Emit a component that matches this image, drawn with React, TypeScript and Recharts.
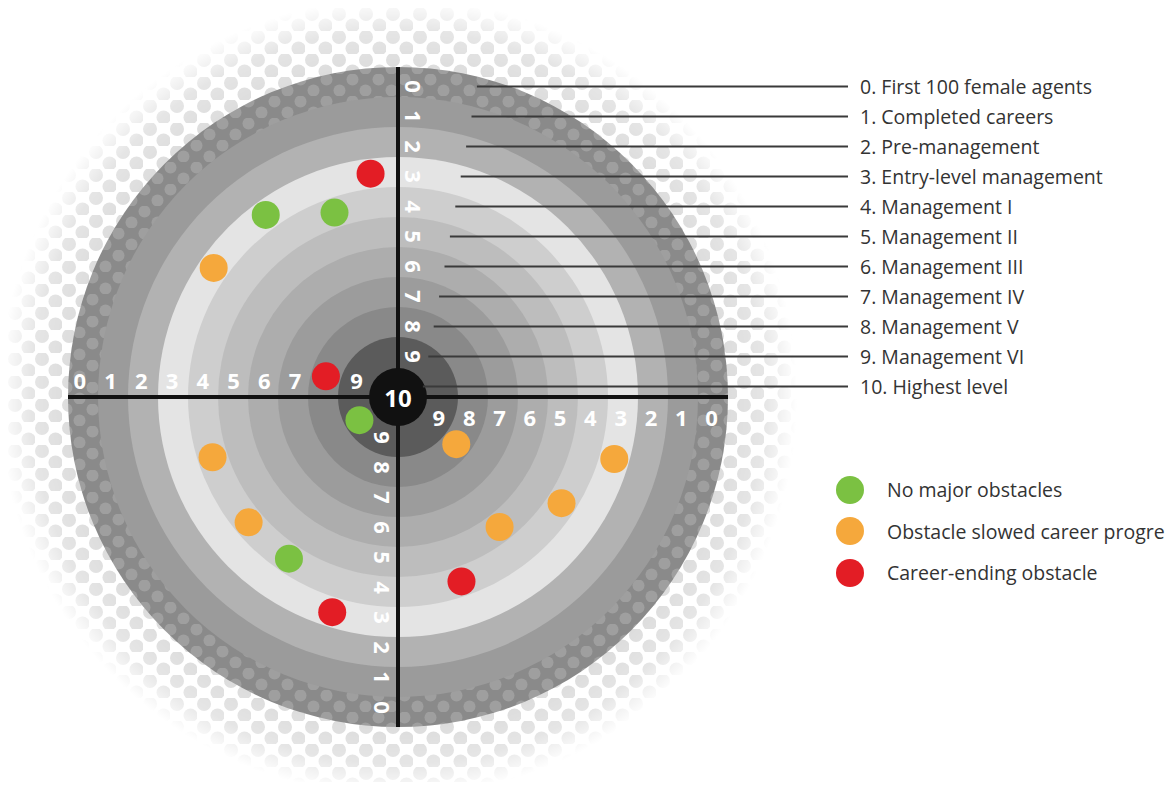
import React from "react";
import { Scatter, ScatterChart, XAxis, YAxis } from "recharts";

// career levels, outermost ring (0) to the bull's-eye (10)
const levels = [0, 1, 2, 3, 4, 5, 6, 7, 8, 9];
const levelNames = [
  "0. First 100 female agents",
  "1. Completed careers",
  "2. Pre-management",
  "3. Entry-level management",
  "4. Management I",
  "5. Management II",
  "6. Management III",
  "7. Management IV",
  "8. Management V",
  "9. Management VI",
  "10. Highest level",
];
const outcomes = ["No major obstacles", "Obstacle slowed career progress", "Career-ending obstacle"];

// one entry per agent: level reached, position round the target (deg, ccw from 3 o'clock), outcome index
const agentLevels = [3, 3, 4, 3, 8, 9, 4, 4, 4, 3, 8, 3, 4, 5, 4];
const agentAngles = [97, 126, 109, 145, 164, 211, 198, 220, 236, 253, 321, 344, 327, 308, 289];
const agentOutcomes = [2, 0, 0, 1, 2, 0, 1, 1, 0, 2, 1, 1, 1, 1, 2];

const W = 1165;
const H = 774;
const CX = 390;
const CY = 389;
const UNIT = 30; // px per ring
const FONT = "'Open Sans', sans-serif";

const RING_FILLS = [
  "url(#ringDots)",
  "#9b9b9b",
  "#b2b2b2",
  "#e4e4e4",
  "#cecece",
  "#bdbdbd",
  "#adadad",
  "#9c9c9c",
  "#898989",
  "#5b5b5b",
];
const OUTCOME_COLORS = ["#7bc142", "#f5a83c", "#e31d25"];

const labelDist = (k: number) => 10.35 - k;
const leaderStart = (k: number) => 2.63 - 0.18 * k;

const arms = [
  { dx: -1, dy: 0, ox: 0, oy: -17, rot: 0, stretch: 1.025 },
  { dx: 1, dy: 0, ox: 0, oy: 20, rot: 0, stretch: 1.01 },
  { dx: 0, dy: 1, ox: 16, oy: 0, rot: 90, stretch: 1 },
  { dx: 0, dy: -1, ox: -15, oy: 0, rot: 90, stretch: 1 },
];

const cloud = [{ x: 0, y: 0 }];
const rings = levels.map((level) => ({ x: 0, y: 0, level }));
const hLine = [{ x: -11, y: 0 }, { x: 11, y: 0 }];
const vLine = [{ x: 0, y: 11 }, { x: 0, y: -11 }];
const bullseye = [{ x: 0, y: 0, text: "10" }];
const armLabels = arms.flatMap((arm, armIndex) =>
  levels.map((k) => ({
    x: arm.dx * labelDist(k) * arm.stretch,
    y: arm.dy * labelDist(k) * arm.stretch,
    text: String(k),
    arm: armIndex,
  })),
);
const nameRows = levelNames.map((name, k) => ({ x: 15.4, y: labelDist(k), name }));

const agents = agentLevels.map((level, i) => {
  const r = 10.5 - level;
  const a = (agentAngles[i] * Math.PI) / 180;
  return { x: r * Math.cos(a), y: r * Math.sin(a), level, outcome: agentOutcomes[i] };
});

const empty = () => <g />;

function OutcomeLegend() {
  return (
    <div style={{ position: "absolute", left: 828, top: 461, fontFamily: FONT }}>
      {outcomes.map((name, i) => (
        <div key={name} style={{ display: "flex", alignItems: "center", height: 41.5, whiteSpace: "nowrap" }}>
          <span
            style={{
              width: 28,
              height: 28,
              flex: "0 0 28px",
              borderRadius: "50%",
              background: OUTCOME_COLORS[i],
            }}
          />
          <span style={{ marginLeft: 23, fontSize: 19.5, color: "#333" }}>{name}</span>
        </div>
      ))}
    </div>
  );
}

export default function App() {
  return (
    <div style={{ position: "relative", width: W, height: H, overflow: "hidden" }}>
      <ScatterChart width={W} height={H} margin={{ top: 0, right: 0, bottom: 0, left: 0 }}>
        <defs>
          <pattern id="cloudDots" width="27" height="23" patternUnits="userSpaceOnUse">
            <circle cx="7" cy="6" r="7" fill="#dcdcdc" />
            <circle cx="20.5" cy="17.5" r="7" fill="#dcdcdc" />
          </pattern>
          <radialGradient id="cloudGrad">
            <stop offset="0.82" stopColor="#fff" />
            <stop offset="0.92" stopColor="#bbb" />
            <stop offset="1" stopColor="#000" />
          </radialGradient>
          <mask id="cloudMask" maskContentUnits="objectBoundingBox">
            <rect width="1" height="1" fill="url(#cloudGrad)" />
          </mask>
          <pattern id="ringDots" width="26" height="22" patternUnits="userSpaceOnUse">
            <rect width="26" height="22" fill="#8a8a8a" />
            <circle cx="6.5" cy="5.5" r="6" fill="#9f9f9f" />
            <circle cx="19.5" cy="16.5" r="6" fill="#9f9f9f" />
          </pattern>
        </defs>
        <XAxis type="number" dataKey="x" hide domain={[-CX / UNIT, (W - CX) / UNIT]} allowDataOverflow />
        <YAxis type="number" dataKey="y" hide domain={[-(H - CY) / UNIT, CY / UNIT]} allowDataOverflow />

        <Scatter
          data={cloud}
          isAnimationActive={false}
          shape={(p: any) => (
            <circle cx={p.cx} cy={p.cy} r={13.3 * UNIT} fill="url(#cloudDots)" mask="url(#cloudMask)" />
          )}
        />
        <Scatter
          data={rings}
          isAnimationActive={false}
          shape={(p: any) => (
            <circle cx={p.cx} cy={p.cy} r={(11 - p.payload.level) * UNIT} fill={RING_FILLS[p.payload.level]} />
          )}
        />
        <Scatter data={hLine} isAnimationActive={false} line={{ stroke: "#111", strokeWidth: 4 }} shape={empty} />
        <Scatter data={vLine} isAnimationActive={false} line={{ stroke: "#111", strokeWidth: 4 }} shape={empty} />
        <Scatter
          data={bullseye}
          isAnimationActive={false}
          shape={(p: any) => (
            <g>
              <circle cx={p.cx} cy={p.cy} r={UNIT - 1} fill="#111" />
              <text
                x={p.cx}
                y={p.cy}
                textAnchor="middle"
                dominantBaseline="central"
                fill="#fff"
                fontFamily={FONT}
                fontWeight={700}
                fontSize={24}
              >
                {p.payload.text}
              </text>
            </g>
          )}
        />
        <Scatter
          data={armLabels}
          isAnimationActive={false}
          shape={(p: any) => {
            const arm = arms[p.payload.arm];
            const x = p.cx + arm.ox;
            const y = p.cy + arm.oy;
            return (
              <text
                x={x}
                y={y}
                transform={`rotate(${arm.rot} ${x} ${y})`}
                textAnchor="middle"
                dominantBaseline="central"
                fill="#fff"
                fontFamily={FONT}
                fontWeight={700}
                fontSize={22}
              >
                {p.payload.text}
              </text>
            );
          }}
        />
        {levelNames.map((_, k) => (
          <Scatter
            key={`leader-${k}`}
            data={[
              { x: leaderStart(k), y: labelDist(k) },
              { x: 15, y: labelDist(k) },
            ]}
            isAnimationActive={false}
            line={{ stroke: "#3a3a3a", strokeWidth: 2 }}
            shape={empty}
          />
        ))}
        <Scatter
          data={nameRows}
          isAnimationActive={false}
          shape={(p: any) => (
            <text x={p.cx} y={p.cy} dominantBaseline="central" fill="#333" fontFamily={FONT} fontSize={19.5}>
              {p.payload.name}
            </text>
          )}
        />
        {outcomes.map((name, i) => (
          <Scatter
            key={name}
            name={name}
            data={agents.filter((a) => a.outcome === i)}
            fill={OUTCOME_COLORS[i]}
            isAnimationActive={false}
            shape={(p: any) => <circle cx={p.cx} cy={p.cy} r={14} fill={OUTCOME_COLORS[i]} />}
          />
        ))}
      </ScatterChart>
      <OutcomeLegend />
    </div>
  );
}
